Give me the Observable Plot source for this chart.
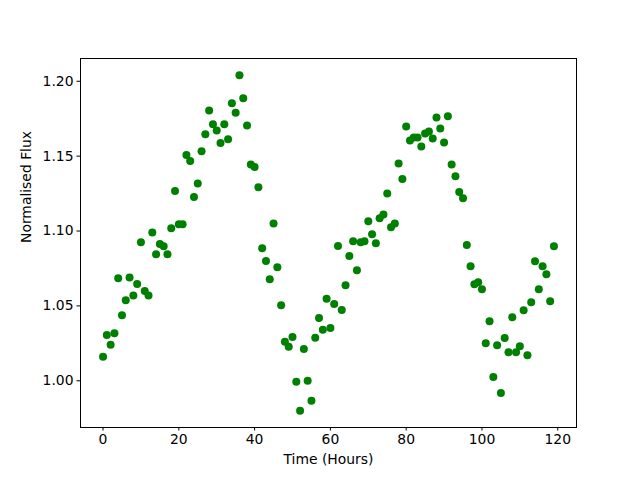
<!DOCTYPE html>
<html>
<head>
<meta charset="utf-8">
<script src="https://cdn.jsdelivr.net/npm/d3@7"></script>
<script src="https://cdn.jsdelivr.net/npm/@observablehq/plot@0.6"></script>
<style>
body { margin: 0; background: #fff; }
svg { font-family: "DejaVu Sans", sans-serif; }
</style>
</head>
<body>
<div id="chart"></div>
<script>
const hours = d3.range(0, 120);
const flux = [
  1.016, 1.0305, 1.024, 1.0318, 1.0685, 1.0438, 1.0538, 1.069, 1.057, 1.0647,
  1.0925, 1.060, 1.057, 1.099, 1.0845, 1.0913, 1.0898, 1.0845, 1.1018, 1.1267,
  1.1045, 1.1045, 1.1507, 1.1467, 1.1227, 1.1318, 1.1533, 1.1647, 1.1805, 1.1713,
  1.1671, 1.1587, 1.1713, 1.1613, 1.1853, 1.179, 1.204, 1.1887, 1.1705, 1.1445,
  1.1427, 1.1293, 1.0885, 1.080, 1.0678, 1.1051, 1.0758, 1.0505, 1.026, 1.0227,
  1.0293, 0.9993, 0.980, 1.0213, 1.000, 0.9867, 1.0287, 1.042, 1.034, 1.0547,
  1.0353, 1.0513, 1.090, 1.0473, 1.0638, 1.0833, 1.0931, 1.0738, 1.0925, 1.0931,
  1.1065, 1.0978, 1.0918, 1.1085, 1.1111, 1.1251, 1.1025, 1.1051, 1.1451, 1.1347,
  1.1698, 1.1605, 1.1625, 1.1625, 1.1565, 1.1651, 1.1665, 1.1618, 1.1758, 1.1685,
  1.1591, 1.1767, 1.1445, 1.1365, 1.126, 1.1218, 1.0907, 1.0765, 1.0645, 1.0658,
  1.0611, 1.0251, 1.0398, 1.0025, 1.0238, 0.9918, 1.0285, 1.0191, 1.0425, 1.0191,
  1.0231, 1.0471, 1.0171, 1.0525, 1.0798, 1.0611, 1.0765, 1.0711, 1.0531, 1.0898
];
const xTicks = [0, 20, 40, 60, 80, 100, 120];
const yTicks = [1.00, 1.05, 1.10, 1.15, 1.20];

const data = hours.map((h, i) => ({h, f: flux[i]}));

const chart = Plot.plot({
  width: 640,
  height: 480,
  marginLeft: 80,
  marginRight: 64,
  marginTop: 58,
  marginBottom: 53,
  style: {fontFamily: "DejaVu Sans, sans-serif", fontSize: "13.9px", color: "#000", background: "#fff"},
  x: {domain: [-5.95, 124.95]},
  y: {domain: [0.9688, 1.2152]},
  marks: [
    Plot.frame({stroke: "#000", strokeWidth: 1}),
    Plot.axisX(xTicks, {tickSize: 3.5, tickPadding: 3.5, fontSize: 13.9, label: null}),
    Plot.axisY(yTicks, {tickSize: 3.5, tickPadding: 3.5, fontSize: 13.9, tickFormat: d3.format(".2f"), label: null}),
    Plot.text(["Time (Hours)"], {frameAnchor: "bottom", dy: 36, fontSize: 13.9}),
    Plot.text(["Normalised Flux"], {frameAnchor: "left", dx: -54, rotate: -90, fontSize: 13.9}),
    Plot.dot(data, {x: "h", y: "f", r: 4, fill: "#008000", stroke: "none"})
  ]
});
document.getElementById("chart").appendChild(chart);
</script>
</body>
</html>
